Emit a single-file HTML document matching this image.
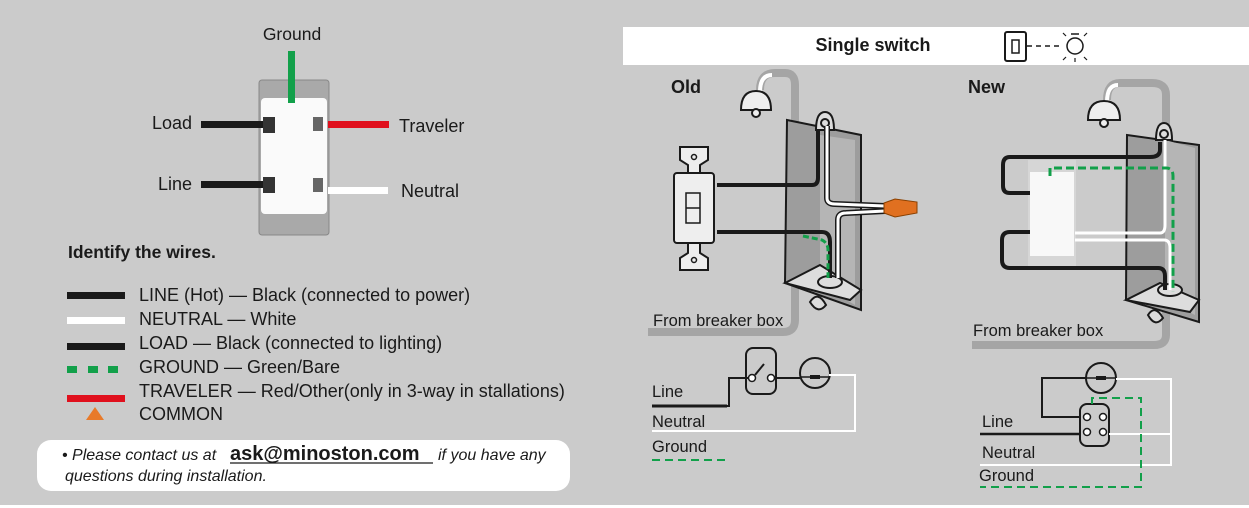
<!DOCTYPE html>
<html><head><meta charset="utf-8"><style>
html,body{margin:0;padding:0;background:#fff}
svg{display:block}
text{font-family:"Liberation Sans",sans-serif;fill:#1a1a1a}
</style></head><body>
<svg width="1249" height="508" viewBox="0 0 1249 508" xmlns="http://www.w3.org/2000/svg">
<rect x="0" y="0" width="1249" height="505" fill="#cbcbcb"/>
<!-- LEFT: switch -->
<text x="292" y="40" font-size="17.5" text-anchor="middle">Ground</text>
<rect x="259" y="80" width="70" height="155" rx="3" fill="#a9a9a9" stroke="#888"/>
<rect x="261" y="98" width="66" height="116" rx="4" fill="#fafafa"/>
<rect x="288" y="51" width="7" height="52" fill="#12a04a"/>
<rect x="201" y="121" width="62" height="7" fill="#1a1a1a"/>
<rect x="201" y="181" width="62" height="7" fill="#1a1a1a"/>
<rect x="328" y="121" width="61" height="7" fill="#e0101d"/>
<rect x="328" y="187" width="60" height="7" fill="#fff"/>
<rect x="263" y="117" width="12" height="16" fill="#333"/>
<rect x="263" y="177" width="12" height="16" fill="#333"/>
<rect x="313" y="117" width="10" height="14" fill="#666"/>
<rect x="313" y="178" width="10" height="14" fill="#666"/>
<text x="152" y="129" font-size="18">Load</text>
<text x="158" y="190" font-size="18">Line</text>
<text x="399" y="132" font-size="18">Traveler</text>
<text x="401" y="197" font-size="18">Neutral</text>
<!-- legend -->
<text x="68" y="258" font-size="17.5" font-weight="bold">Identify the wires.</text>
<rect x="67" y="292" width="58" height="7" fill="#1a1a1a"/>
<rect x="67" y="317" width="58" height="7" fill="#fff"/>
<rect x="67" y="343" width="58" height="7" fill="#1a1a1a"/>
<rect x="67" y="366" width="10" height="7" fill="#12a04a"/>
<rect x="88" y="366" width="10" height="7" fill="#12a04a"/>
<rect x="108" y="366" width="10" height="7" fill="#12a04a"/>
<rect x="67" y="395" width="58" height="7" fill="#e0101d"/>
<polygon points="95,407 86,420 104,420" fill="#e87a2a"/>
<g font-size="18">
<text x="139" y="301">LINE (Hot) — Black (connected to power)</text>
<text x="139" y="325">NEUTRAL — White</text>
<text x="139" y="349">LOAD — Black (connected to lighting)</text>
<text x="139" y="373">GROUND — Green/Bare</text>
<text x="139" y="397">TRAVELER — Red/Other(only in 3-way in stallations)</text>
<text x="139" y="420">COMMON</text>
</g>
<rect x="37" y="440" width="533" height="51" rx="14" fill="#fff"/>
<text x="62" y="460" font-size="16" font-style="italic">• Please contact us at</text>
<text x="230" y="460" font-size="20" font-weight="bold">ask@minoston.com</text>
<line x1="230" y1="463" x2="433" y2="463" stroke="#1a1a1a" stroke-width="1.2"/>
<text x="438" y="460" font-size="16" font-style="italic">if you have any</text>
<text x="65" y="481" font-size="16" font-style="italic">questions during installation.</text>

<!-- RIGHT header -->
<rect x="623" y="27" width="626" height="38" fill="#fff"/>
<text x="873" y="51" font-size="18" font-weight="bold" text-anchor="middle">Single switch</text>
<rect x="1005" y="32" width="21" height="29" rx="2" fill="none" stroke="#1a1a1a" stroke-width="2"/>
<rect x="1012" y="40" width="7" height="13" fill="none" stroke="#1a1a1a" stroke-width="1.5"/>
<line x1="1027" y1="46" x2="1063" y2="46" stroke="#1a1a1a" stroke-width="1.5" stroke-dasharray="5,4"/>
<circle cx="1075" cy="46" r="8" fill="none" stroke="#1a1a1a" stroke-width="1.5"/>
<line x1="1071" y1="34" x2="1079" y2="34" stroke="#1a1a1a" stroke-width="1.5"/>
<g stroke="#1a1a1a" stroke-width="1.2"><line x1="1066" y1="36" x2="1063" y2="33"/><line x1="1084" y1="36" x2="1087" y2="33"/><line x1="1066" y1="57" x2="1063" y2="60"/><line x1="1084" y1="57" x2="1087" y2="60"/><line x1="1075" y1="58" x2="1075" y2="62"/></g>

<!-- OLD -->
<text x="671" y="93" font-size="18" font-weight="bold">Old</text>
<path d="M760,90 Q760,73 775,73 L785,73 Q795,73 795,85 L795,320 Q795,332 783,332 L648,332" fill="none" stroke="#a5a5a5" stroke-width="8"/>
<path d="M760,92 Q760,75 772,75" fill="none" stroke="#fff" stroke-width="4"/>
<path d="M741,110 Q741,91 756,91 Q771,91 771,110 Z" fill="#eee" stroke="#1a1a1a" stroke-width="2"/>
<circle cx="756" cy="113" r="4" fill="#eee" stroke="#1a1a1a" stroke-width="2"/>
<polygon points="787,120 861,135 861,310 785,283" fill="#9d9d9d" stroke="#1a1a1a" stroke-width="2"/>
<polygon points="820,135 855,140 855,305 820,285" fill="#b5b5b5"/>
<path d="M816,130 Q816,112 825,112 Q834,112 834,130 Z" fill="#ddd" stroke="#1a1a1a" stroke-width="2"/>
<circle cx="825" cy="123" r="4" fill="none" stroke="#1a1a1a" stroke-width="2"/>
<polygon points="785,283 820,265 861,290 850,300" fill="#ddd" stroke="#1a1a1a" stroke-width="2"/>
<ellipse cx="830" cy="282" rx="12" ry="6" fill="#ddd" stroke="#1a1a1a" stroke-width="2"/>
<path d="M810,302 Q818,290 826,305 Q818,315 810,302Z" fill="#ddd" stroke="#1a1a1a" stroke-width="2"/>
<path d="M717,185 L812,185 Q818,185 818,178 L818,130" fill="none" stroke="#1a1a1a" stroke-width="4"/>
<path d="M717,232 L822,232 Q830,232 830,242 L830,278" fill="none" stroke="#1a1a1a" stroke-width="4"/>
<path d="M827,126 L827,198 Q827,204 835,204 L885,206" fill="none" stroke="#1a1a1a" stroke-width="6"/>
<path d="M827,126 L827,198 Q827,204 835,204 L885,206" fill="none" stroke="#fff" stroke-width="3"/>
<path d="M838,278 L838,220 Q838,213 846,213 L885,211" fill="none" stroke="#1a1a1a" stroke-width="6"/>
<path d="M838,278 L838,220 Q838,213 846,213 L885,211" fill="none" stroke="#fff" stroke-width="3"/>
<path d="M803,236 L822,240 Q828,243 828,250 L828,278" fill="none" stroke="#12a04a" stroke-width="3" stroke-dasharray="6,3"/>
<polygon points="884,203 895,199 917,202 917,213 895,217 884,213" fill="#e07020" stroke="#8a4000" stroke-width="1"/>
<path d="M680,147 L708,147 L708,160 L700,165 L700,173 L688,173 L688,165 L680,160Z" fill="#eee" stroke="#1a1a1a" stroke-width="2"/>
<path d="M688,243 L700,243 L700,253 L708,258 L708,270 L680,270 L680,258 L688,253Z" fill="#eee" stroke="#1a1a1a" stroke-width="2"/>
<circle cx="694" cy="157" r="2.5" fill="none" stroke="#1a1a1a" stroke-width="1.5"/>
<circle cx="694" cy="260" r="2.5" fill="none" stroke="#1a1a1a" stroke-width="1.5"/>
<rect x="674" y="173" width="40" height="70" rx="3" fill="#eee" stroke="#1a1a1a" stroke-width="2"/>
<rect x="686" y="193" width="14" height="30" fill="none" stroke="#1a1a1a" stroke-width="1.5"/>
<line x1="686" y1="208" x2="700" y2="208" stroke="#1a1a1a" stroke-width="1.5"/>
<text x="653" y="326" font-size="16.5">From breaker box</text>

<!-- NEW -->
<text x="968" y="93" font-size="18" font-weight="bold">New</text>
<path d="M1107,100 Q1107,83 1120,83 L1152,83 Q1166,83 1166,95 L1166,335 Q1166,345 1154,345 L972,345" fill="none" stroke="#a5a5a5" stroke-width="8"/>
<path d="M1107,102 Q1107,85 1118,85" fill="none" stroke="#fff" stroke-width="4"/>
<path d="M1088,120 Q1088,101 1104,101 Q1120,101 1120,120 Z" fill="#eee" stroke="#1a1a1a" stroke-width="2"/>
<circle cx="1104" cy="123" r="4" fill="#eee" stroke="#1a1a1a" stroke-width="2"/>
<polygon points="1127,135 1199,145 1199,322 1126,300" fill="#9d9d9d" stroke="#1a1a1a" stroke-width="2"/>
<polygon points="1165,140 1195,148 1195,315 1165,300" fill="#b5b5b5"/>
<path d="M1156,140 Q1156,123 1164,123 Q1172,123 1172,140 Z" fill="#ddd" stroke="#1a1a1a" stroke-width="2"/>
<circle cx="1164" cy="134" r="4" fill="none" stroke="#1a1a1a" stroke-width="2"/>
<polygon points="1126,300 1160,283 1199,300 1190,312" fill="#ddd" stroke="#1a1a1a" stroke-width="2"/>
<ellipse cx="1170" cy="290" rx="12" ry="6" fill="#ddd" stroke="#1a1a1a" stroke-width="2"/>
<path d="M1148,315 Q1155,304 1163,318 Q1155,328 1148,315Z" fill="#ddd" stroke="#1a1a1a" stroke-width="2"/>
<rect x="1028" y="160" width="48" height="107" fill="#d6d6d6"/>
<rect x="1030" y="172" width="44" height="84" fill="#f8f8f8"/>
<path d="M1160,142 L1160,150 Q1160,157 1150,157 L1010,157 Q1003,157 1003,165 L1003,186 Q1003,193 1010,193 L1030,193" fill="none" stroke="#1a1a1a" stroke-width="4"/>
<path d="M1030,232 L1010,232 Q1002,232 1002,240 L1002,260 Q1002,268 1010,268 L1158,268 Q1165,268 1165,276 L1165,290" fill="none" stroke="#1a1a1a" stroke-width="4"/>
<path d="M1075,233 L1160,233 Q1165,233 1165,225 L1165,140" fill="none" stroke="#fff" stroke-width="3"/>
<path d="M1075,240 L1164,240 Q1170,240 1170,248 L1170,290" fill="none" stroke="#fff" stroke-width="3"/>
<path d="M1050,176 L1050,168 L1166,168 Q1173,168 1173,176 L1173,292" fill="none" stroke="#12a04a" stroke-width="3" stroke-dasharray="8,4"/>
<text x="973" y="336" font-size="16.5">From breaker box</text>

<!-- Old schematic -->
<g fill="none" stroke="#1a1a1a" stroke-width="2">
<rect x="746" y="348" width="30" height="46" rx="7"/>
<circle cx="815" cy="373" r="15"/>
</g>
<path d="M652,406 L729,406 L729,378 L749,378" fill="none" stroke="#1a1a1a" stroke-width="2"/>
<line x1="652" y1="406" x2="727" y2="406" stroke="#1a1a1a" stroke-width="3"/>
<line x1="772" y1="378" x2="800" y2="378" stroke="#1a1a1a" stroke-width="2"/>
<line x1="755" y1="375" x2="764" y2="364" stroke="#1a1a1a" stroke-width="2"/>
<circle cx="752" cy="378" r="3.5" fill="#fff" stroke="#1a1a1a" stroke-width="1.5"/>
<circle cx="771" cy="378" r="3.5" fill="#fff" stroke="#1a1a1a" stroke-width="1.5"/>
<rect x="810" y="375" width="10" height="4" fill="#1a1a1a"/>
<line x1="800" y1="377" x2="830" y2="377" stroke="#1a1a1a" stroke-width="1.5"/>
<path d="M829,375 L855,375 L855,431 L652,431" fill="none" stroke="#fff" stroke-width="2"/>
<line x1="652" y1="460" x2="726" y2="460" stroke="#12a04a" stroke-width="2" stroke-dasharray="8,5"/>
<text x="652" y="397" font-size="16.5">Line</text>
<text x="652" y="427" font-size="16.5">Neutral</text>
<text x="652" y="452" font-size="16.5">Ground</text>

<!-- New schematic -->
<circle cx="1101" cy="378" r="15" fill="none" stroke="#1a1a1a" stroke-width="2"/>
<rect x="1096" y="376" width="10" height="4" fill="#1a1a1a"/>
<line x1="1086" y1="378" x2="1116" y2="378" stroke="#1a1a1a" stroke-width="1.5"/>
<rect x="1080" y="404" width="29" height="42" rx="7" fill="none" stroke="#1a1a1a" stroke-width="2"/>
<path d="M1086,378 L1042,378 L1042,417 L1080,417" fill="none" stroke="#1a1a1a" stroke-width="2"/>
<line x1="980" y1="434" x2="1080" y2="434" stroke="#1a1a1a" stroke-width="2.5"/>
<path d="M1116,379 L1171,379 L1171,465 L980,465" fill="none" stroke="#fff" stroke-width="2"/>
<line x1="1109" y1="434" x2="1171" y2="434" stroke="#fff" stroke-width="2"/>
<path d="M1092,404 L1092,398 L1141,398 L1141,487 L980,487" fill="none" stroke="#12a04a" stroke-width="2" stroke-dasharray="8,5"/>
<circle cx="1087" cy="417" r="3.5" fill="#fff" stroke="#1a1a1a" stroke-width="1.5"/>
<circle cx="1103" cy="417" r="3.5" fill="#fff" stroke="#1a1a1a" stroke-width="1.5"/>
<circle cx="1087" cy="432" r="3.5" fill="#fff" stroke="#1a1a1a" stroke-width="1.5"/>
<circle cx="1103" cy="432" r="3.5" fill="#fff" stroke="#1a1a1a" stroke-width="1.5"/>
<text x="982" y="427" font-size="16.5">Line</text>
<text x="982" y="458" font-size="16.5">Neutral</text>
<text x="979" y="481" font-size="16.5">Ground</text>
</svg>
</body></html>
